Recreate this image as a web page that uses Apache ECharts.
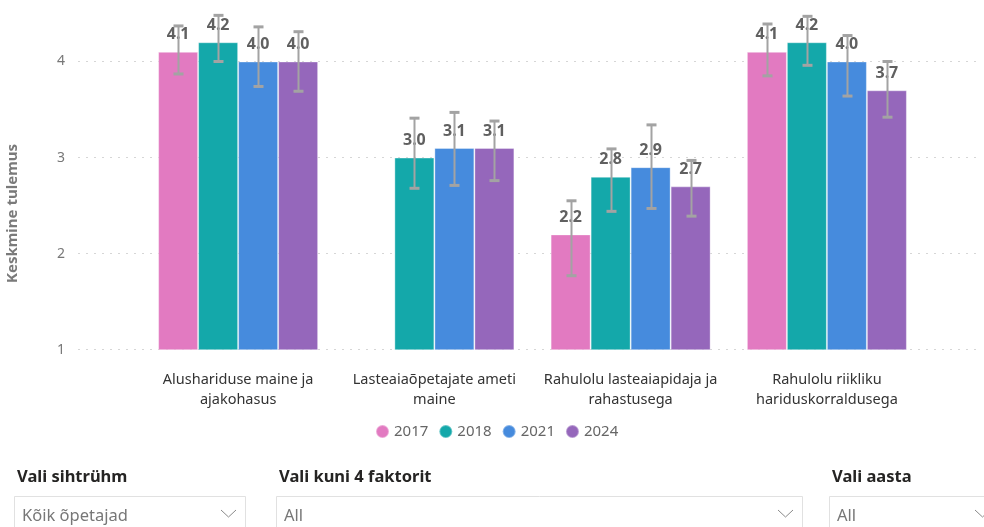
<!DOCTYPE html>
<html>
<head>
<meta charset="utf-8">
<script src="https://cdn.jsdelivr.net/npm/echarts@6/dist/echarts.min.js"></script>
<style>
  html, body { margin: 0; padding: 0; background: #fff; }
  #main { width: 984px; height: 527px; }
</style>
</head>
<body>
<div id="main"></div>
<script>
// andmed
var categories = ['Alushariduse maine ja\najakohasus', 'Lasteaiaõpetajate ameti\nmaine', 'Rahulolu lasteaiapidaja ja\nrahastusega', 'Rahulolu riikliku\nhariduskorraldusega'];
var years = ['2017', '2018', '2021', '2024'];
var v2017 = [4.1, null, 2.2, 4.1];
var v2018 = [4.2, 3.0, 2.8, 4.2];
var v2021 = [4.0, 3.1, 2.9, 4.0];
var v2024 = [4.0, 3.1, 2.7, 3.7];
// usaldusvahemikud (alumine / ülemine)
var lo2017 = [3.87, null, 1.77, 3.85];
var hi2017 = [4.37, null, 2.55, 4.39];
var lo2018 = [4.00, 2.68, 2.44, 3.96];
var hi2018 = [4.48, 3.41, 3.09, 4.47];
var lo2021 = [3.74, 2.71, 2.47, 3.64];
var hi2021 = [4.36, 3.47, 3.34, 4.27];
var lo2024 = [3.69, 2.76, 2.39, 3.42];
var hi2024 = [4.31, 3.38, 2.97, 4.00];
var yTicks = [1, 2, 3, 4];

var colors = ['#E27AC1', '#14A8AA', '#468BDD', '#9567BB'];
var values = [v2017, v2018, v2021, v2024];
var lows = [lo2017, lo2018, lo2021, lo2024];
var highs = [hi2017, hi2018, hi2021, hi2024];
var barW = 40;
var FONT = '"Noto Sans", "Open Sans", sans-serif';

var myChart = echarts.init(document.getElementById('main'));

var series = [];
years.forEach(function (y, i) {
    series.push({
        name: y,
        type: 'bar',
        xAxisIndex: 1,
        yAxisIndex: 1,
        barWidth: barW,
        barGap: '0%',
        data: values[i],
        itemStyle: { color: colors[i], borderColor: 'rgba(255,255,255,0.35)', borderWidth: 1 },
        label: {
            show: true,
            position: 'top',
            distance: 9,
            fontFamily: FONT,
            fontSize: 16,
            fontWeight: 'bold',
            color: '#606060',
            formatter: function (p) { return p.value == null ? '' : p.value.toFixed(1); }
        },
        z: 2
    });
});
// vearibad
years.forEach(function (y, i) {
    var d = [];
    for (var k = 0; k < categories.length; k++) {
        if (lows[i][k] != null) d.push([k, lows[i][k], highs[i][k]]);
    }
    series.push({
        type: 'custom',
        xAxisIndex: 1,
        yAxisIndex: 1,
        z: 10,
        silent: true,
        encode: { x: 0, y: [1, 2] },
        data: d,
        renderItem: function (params, api) {
            var c = api.value(0);
            var p1 = api.coord([c, api.value(1)]);
            var p2 = api.coord([c, api.value(2)]);
            var x = Math.round(p1[0] + (i - 1.5) * barW) + 0.5;
            var st = { stroke: '#a3a3a3', lineWidth: 2 };
            return {
                type: 'group',
                children: [
                    { type: 'line', shape: { x1: x, y1: p1[1], x2: x, y2: p2[1] }, style: st },
                    { type: 'line', shape: { x1: x - 5, y1: p1[1], x2: x + 5, y2: p1[1] }, style: { stroke: '#a3a3a3', lineWidth: 3 } },
                    { type: 'line', shape: { x1: x - 5, y1: p2[1], x2: x + 5, y2: p2[1] }, style: { stroke: '#a3a3a3', lineWidth: 3 } }
                ]
            };
        }
    });
});

function chevron(x, y) {
    return {
        type: 'polyline',
        shape: { points: [[x, y], [x + 7.5, y + 7], [x + 15, y]] },
        style: { stroke: '#8a8a8a', lineWidth: 1, fill: null }
    };
}
function slicer(x, w, title, val) {
    return [
        { type: 'text', left: x + 3, top: 469, style: { text: title, fontFamily: FONT, fontSize: 16.5, fontWeight: 'bold', fill: '#252423' } },
        { type: 'rect', shape: { x: x + 0.5, y: 496.5, width: w, height: 40 }, style: { fill: '#fff', stroke: '#e1e1e1', lineWidth: 1 } },
        { type: 'text', left: x + 8, top: 508, style: { text: val, fontFamily: FONT, fontSize: 16.5, fill: '#777' } },
        chevron(x + w - 24, 510)
    ];
}

var option = {
    backgroundColor: '#fff',
    animation: false,
    color: colors,
    textStyle: { fontFamily: FONT },
    grid: [
        { left: 78, right: 4, top: -34.6, bottom: 177.3, outerBoundsMode: 'none', containLabel: false },
        { left: 140, right: 59, top: -34.6, bottom: 177.3, outerBoundsMode: 'none', containLabel: false }
    ],
    legend: {
        data: years,
        left: 375,
        top: 424,
        icon: 'circle',
        itemWidth: 13,
        itemHeight: 13,
        itemGap: 10,
        padding: 0,
        textStyle: { fontFamily: FONT, fontSize: 15, color: '#666' }
    },
    xAxis: [
        { gridIndex: 0, type: 'value', show: false, min: 0, max: 1 },
        {
            gridIndex: 1,
            type: 'category',
            data: categories,
            axisLine: { show: false },
            axisTick: { show: false },
            axisLabel: { interval: 0, margin: 20, fontFamily: FONT, fontSize: 14.5, lineHeight: 20, color: '#333' }
        }
    ],
    yAxis: [
        {
            gridIndex: 0,
            type: 'value',
            min: 1,
            max: 5,
            interval: 1,
            axisLine: { show: false },
            axisTick: { show: false },
            axisLabel: {
                margin: 13, fontFamily: FONT, fontSize: 14, color: '#777',
                formatter: function (v) { return yTicks.indexOf(v) >= 0 ? String(v) : ''; }
            },
            splitLine: { lineStyle: { type: [2, 6], color: '#d6d6d6', width: 1 } }
        },
        { gridIndex: 1, type: 'value', min: 1, max: 5, interval: 1, show: false, splitLine: { show: false } }
    ],
    graphic: [
        { type: 'text', x: 5, y: 283, rotation: Math.PI / 2, style: { text: 'Keskmine tulemus', fontFamily: FONT, fontSize: 15, fontWeight: 'bold', fill: '#7a7a7a' } }
    ].concat(slicer(14, 231, 'Vali sihtrühm', 'Kõik õpetajad'))
     .concat(slicer(276, 526, 'Vali kuni 4 faktorit', 'All'))
     .concat(slicer(829, 170, 'Vali aasta', 'All')),
    series: series
};
myChart.setOption(option);
window.onresize = function () { myChart.resize(); };
</script>
</body>
</html>
